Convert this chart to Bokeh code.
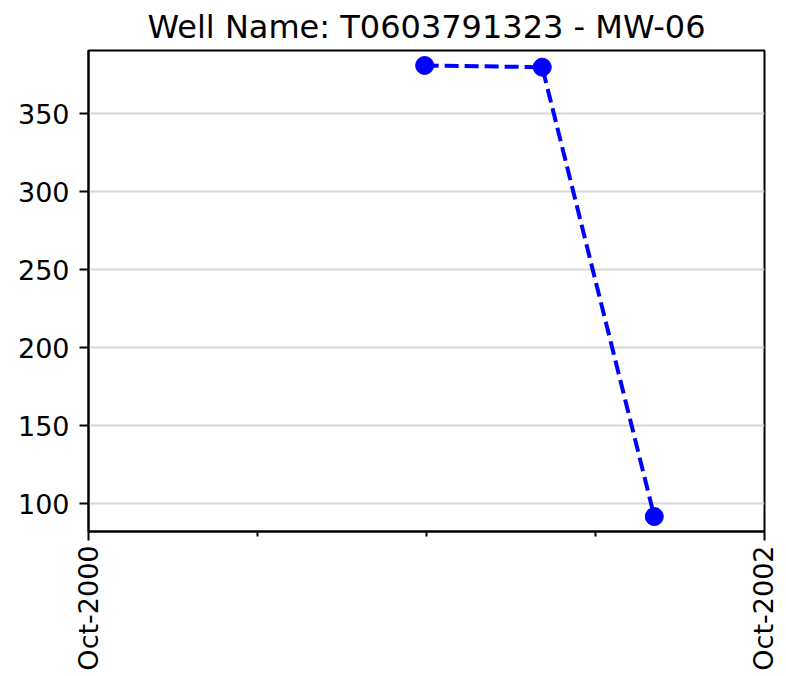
import math
import pandas as pd
from bokeh.plotting import figure
from bokeh.models import FixedTicker, DatetimeTickFormatter, Range1d, ColumnDataSource
from bokeh.embed import file_html
from bokeh.resources import INLINE

# Data
dates = ["2001-09-29", "2002-02-03", "2002-06-04"]
values = [380.9, 379.8, 91.7]
x_major = ["2000-10-01", "2002-10-01"]
x_minor = ["2001-04-01", "2001-10-01", "2002-04-01"]
y_ticks = [100, 150, 200, 250, 300, 350]
title_text = "Well Name: T0603791323 - MW-06"

def ms(d):
    return pd.Timestamp(d).value / 1e6

src = ColumnDataSource(dict(x=pd.to_datetime(dates), y=values))

p = figure(width=778, height=673, x_axis_type="datetime",
           output_backend="svg", toolbar_location=None,
           x_range=Range1d(ms("2000-10-01"), ms("2002-10-01")),
           y_range=Range1d(82.1, 390.5),
           min_border_left=88, min_border_right=14,
           min_border_top=48, min_border_bottom=138)

p.title.text = title_text
p.title.align = "center"
p.title.text_font = "DejaVu Sans"
p.title.text_font_size = "32px"
p.title.text_font_style = "normal"
p.title.text_color = "black"

p.line("x", "y", source=src, line_color="blue", line_width=4, line_dash="14 6")
p.scatter("x", "y", source=src, size=18, fill_color="blue", line_color="blue")

p.xaxis.ticker = FixedTicker(ticks=[ms(d) for d in x_major],
                             minor_ticks=[ms(d) for d in x_minor])
fmt = "%b-%Y"
p.xaxis.formatter = DatetimeTickFormatter(milliseconds=fmt, seconds=fmt, minsec=fmt,
                                          minutes=fmt, hourmin=fmt, hours=fmt,
                                          days=fmt, months=fmt, years=fmt)
p.xaxis.major_label_orientation = math.pi / 2
p.yaxis.ticker = FixedTicker(ticks=y_ticks)
p.yaxis.minor_tick_line_color = None

for ax in (p.xaxis, p.yaxis):
    ax.major_label_text_font = "DejaVu Sans"
    ax.major_label_text_font_size = "27px"
    ax.major_label_text_color = "black"
    ax.axis_line_width = 2
    ax.axis_line_color = "black"
    ax.major_tick_line_width = 2
    ax.major_tick_line_color = "black"
    ax.major_tick_in = 0
    ax.major_tick_out = 9

p.xaxis.major_label_standoff = 5
p.yaxis.major_label_standoff = 10

p.xaxis.minor_tick_line_width = 2
p.xaxis.minor_tick_line_color = "black"
p.xaxis.minor_tick_in = 0
p.xaxis.minor_tick_out = 5

p.xgrid.grid_line_color = None
p.ygrid.grid_line_color = "#d6d6d6"
p.ygrid.grid_line_width = 2

p.outline_line_color = "black"
p.outline_line_width = 2
p.background_fill_color = "white"
p.border_fill_color = "white"

open("out.html", "w").write(file_html(p, INLINE))
